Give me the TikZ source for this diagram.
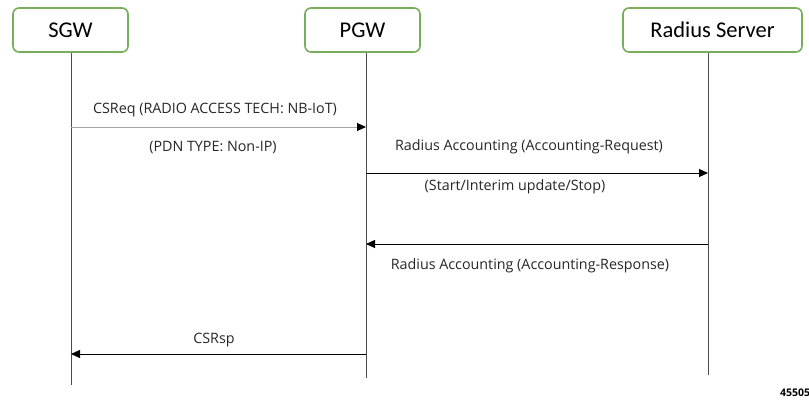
\documentclass[tikz,border=0pt]{standalone}
\usepackage{fontspec}
\setmainfont{Open Sans}
\newfontfamily\boxfont{Carlito}
\usetikzlibrary{arrows.meta}
\definecolor{boxgreen}{HTML}{78AD5A}
\begin{document}
\begin{tikzpicture}[x=1pt,y=-1pt,
  entity/.style={draw=boxgreen,line width=1.6pt,rounded corners=6pt,fill=white,inner sep=0pt,minimum height=44pt,font=\boxfont\fontsize{22.5}{26}\selectfont},
  life/.style={draw=black!70,line width=0.9pt},
  msg/.style={draw=black,line width=0.9pt,-{Triangle[length=9pt,width=8pt]}},
  msggray/.style={draw=black!35,line width=0.9pt,-{Triangle[length=9pt,width=8pt,color=black]}},
  lbl/.style={font=\fontsize{14.3}{16}\selectfont,inner sep=0pt,text=black!85}]
\useasboundingbox (0,0) rectangle (809,400);
\node[entity,minimum width=115pt] (sgw) at (70.5,30) {SGW};
\node[entity,minimum width=115pt] (pgw) at (362.5,30) {PGW};
\node[entity,minimum width=179pt] (rad) at (712.5,30) {Radius Server};
\coordinate (sgwE) at (71,385);
\coordinate (pgwE) at (366,378);
\coordinate (radE) at (708,375);
\draw[life] (sgw.south -| sgwE) -- (sgwE);
\draw[life] (pgw.south -| pgwE) -- (pgwE);
\draw[life] (rad.south -| radE) -- (radE);
\coordinate (a1s) at (71,127); \coordinate (a1e) at (366,127);
\draw[msggray] (a1s) -- (a1e);
\node[lbl] (l1a) at (215,110) {CSReq (RADIO ACCESS TECH: NB-IoT)};
\node[lbl] (l1b) at (213,148) {(PDN TYPE: Non-IP)};
\coordinate (a2s) at (366,173); \coordinate (a2e) at (708,173);
\draw[msg] (a2s) -- (a2e);
\node[lbl] (l2a) at (529,147) {Radius Accounting (Accounting-Request)};
\node[lbl] (l2b) at (515,187) {(Start/Interim update/Stop)};
\coordinate (a3s) at (708,244); \coordinate (a3e) at (366,244);
\draw[msg] (a3s) -- (a3e);
\node[lbl] (l3) at (530,266) {Radius Accounting (Accounting-Response)};
\coordinate (a4s) at (366,354); \coordinate (a4e) at (71,354);
\draw[msg] (a4s) -- (a4e);
\node[lbl] (l4) at (214,340) {CSRsp};
\node[font=\bfseries\fontsize{10.5}{12}\selectfont,anchor=west,inner sep=0pt] (fig) at (780,393) {45505};
\end{tikzpicture}
\end{document}
